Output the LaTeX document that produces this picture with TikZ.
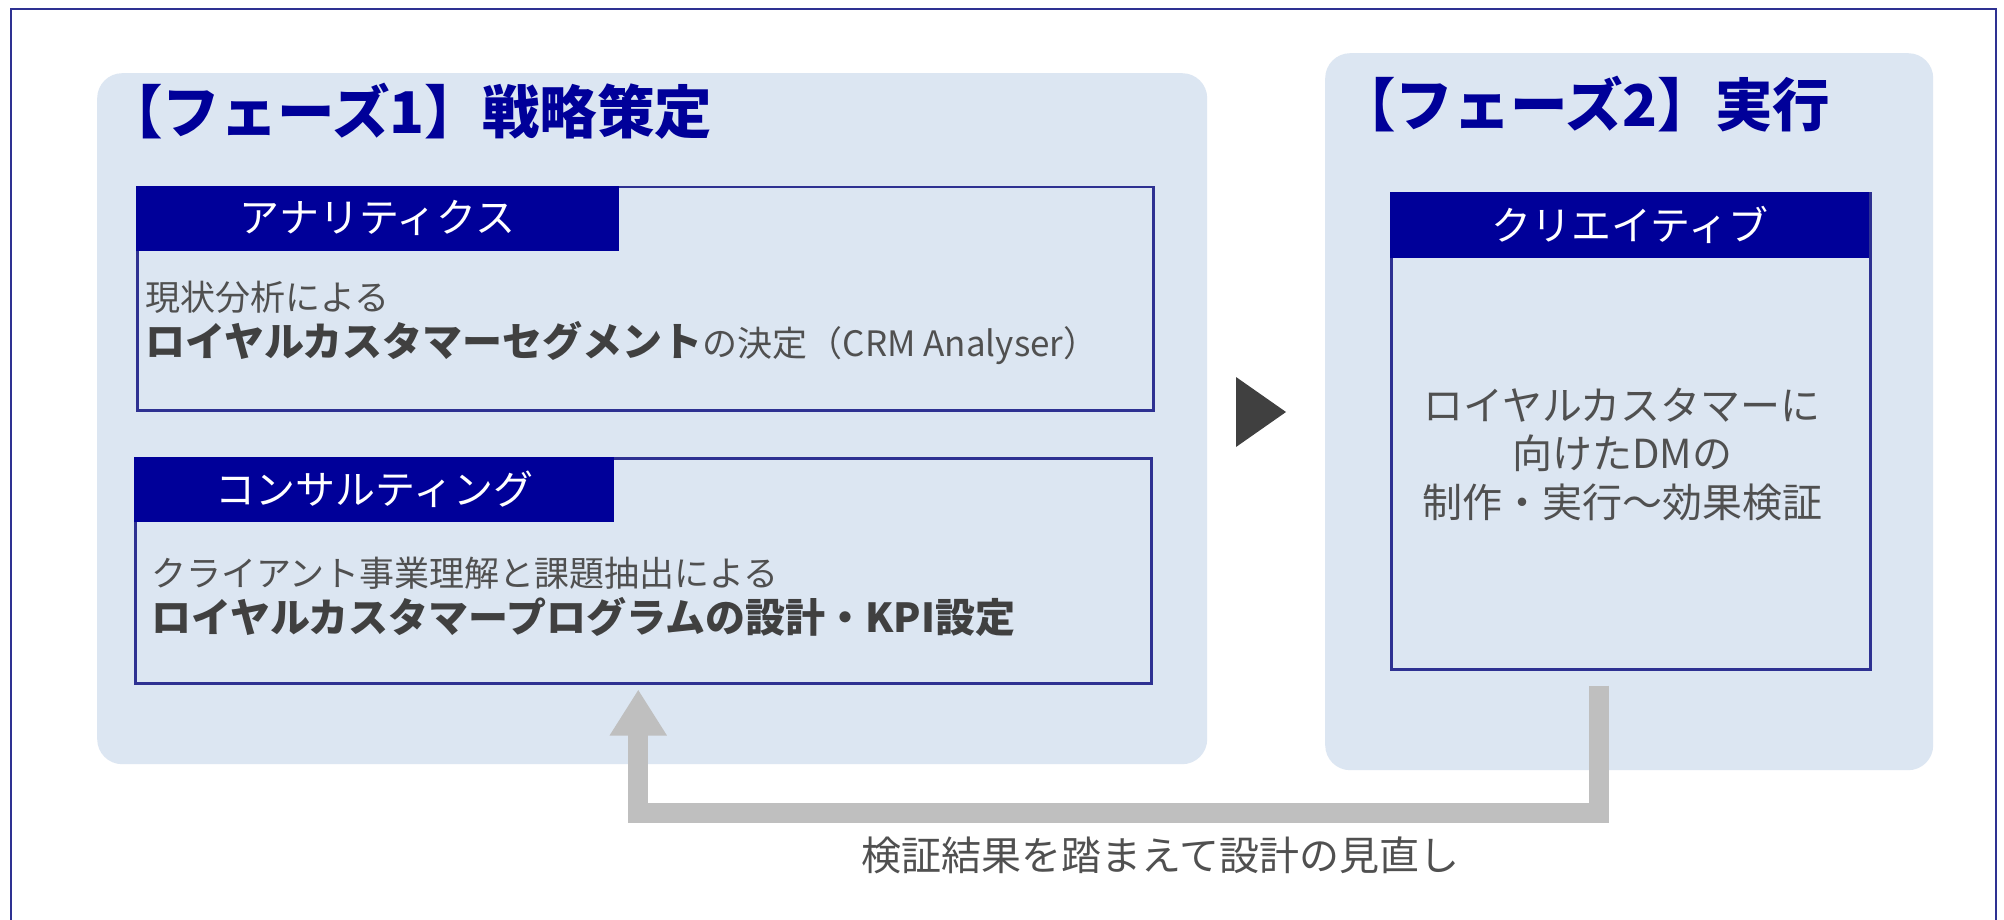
\documentclass[tikz,border=0pt]{standalone}
\usepackage{fontspec}
\newfontfamily\jp{Noto Sans CJK JP}
\usetikzlibrary{arrows.meta,calc}
\definecolor{panelbg}{HTML}{DCE6F2}
\definecolor{navy}{HTML}{000099}
\definecolor{edge}{HTML}{2E3192}
\definecolor{txtgray}{HTML}{505050}
\definecolor{txtdark}{HTML}{404040}
\definecolor{arrowdark}{HTML}{404040}
\definecolor{fbgray}{HTML}{BFBFBF}
\tikzset{
  panel/.style={fill=panelbg, rounded corners=25pt, anchor=north west, inner sep=0pt},
  ibox/.style={draw=edge, line width=2.5pt, anchor=north west, inner sep=0pt},
  hdr/.style={fill=navy, text=white, anchor=north west, inner sep=0pt, font=\jp\fontsize{40}{48}\selectfont},
  ttl/.style={text=navy, anchor=base west, inner sep=0pt, font=\jp\bfseries\fontsize{57.5}{69}\selectfont},
  bodys/.style={text=txtgray, anchor=base west, inner sep=0pt, font=\jp\fontsize{35}{42}\selectfont},
  bodyb/.style={text=txtdark, anchor=base west, inner sep=0pt, font=\jp\fontsize{40}{48}\selectfont},
  fbarrow/.style={draw=fbgray, line width=20pt, miter limit=10, -{Triangle[width=54pt,length=46pt]}},
}
\begin{document}
\begin{tikzpicture}[x=1pt,y=-1pt]
\useasboundingbox (0,0) rectangle (2004,920);
\fill[white] (0,0) rectangle (2004,920);
\draw[edge, line width=2.5pt] (11,9) rectangle (1996,940);
% panels
\node[panel, minimum width=1110pt, minimum height=691pt] (p1) at (97,73) {};
\node[panel, minimum width=608pt, minimum height=717pt] (p2) at (1325,53) {};
% titles
\node[ttl] (t1) at (105,134) {【フェーズ1】戦略策定};
\node[ttl] (t2) at (1338,127) {【フェーズ2】実行};
% box 1
\node[ibox, minimum width=1016pt, minimum height=223pt] (b1) at (136,186) {};
\node[hdr, minimum width=483pt, minimum height=65pt] (h1) at (136,186) {\raisebox{4pt}{アナリティクス}};
\node[bodys] (b1a) at (145,310) {現状分析による};
\node[bodys] (b1b) at (145,356) {{\fontsize{40}{48}\selectfont\bfseries\color{txtdark}ロイヤルカスタマーセグメント}の決定（CRM Analyser）};
% box 2
\node[ibox, minimum width=1016pt, minimum height=225pt] (b2) at (134,457) {};
\node[hdr, minimum width=480pt, minimum height=65pt] (h2) at (134,457) {\raisebox{4pt}{コンサルティング}};
\node[bodys] (b2a) at (151,586) {クライアント事業理解と課題抽出による};
\node[bodyb] (b2b) at (151,632) {\bfseries ロイヤルカスタマープログラムの設計・KPI設定};
% box 3
\node[ibox, minimum width=479pt, minimum height=476pt] (b3) at (1390,192) {};
\node[hdr, minimum width=479pt, minimum height=66pt] (h3) at (1390,192) {\raisebox{4pt}{クリエイティブ}};
\node[text=txtgray, align=center, inner sep=0pt, font=\jp\fontsize{40}{48.5}\selectfont] (b3t) at (1622,454) {ロイヤルカスタマーに\\向けたDMの\\制作・実行〜効果検証};
% phase arrow
\fill[arrowdark] (1236,377) -- (1286,412) -- (1236,447) -- cycle;
% feedback arrow
\coordinate (fbs) at ($(b3.south)+(-32,15)$);
\coordinate (fbe) at ($(b2.south)+(-5,5)$);
\draw[fbarrow] (fbs) -- (fbs |- 0,813) -- (fbe |- 0,813) -- (fbe);
\node[text=txtgray, inner sep=0pt, font=\jp\fontsize{40}{48}\selectfont] (fbl) at (1160,855) {検証結果を踏まえて設計の見直し};
\end{tikzpicture}
\end{document}
